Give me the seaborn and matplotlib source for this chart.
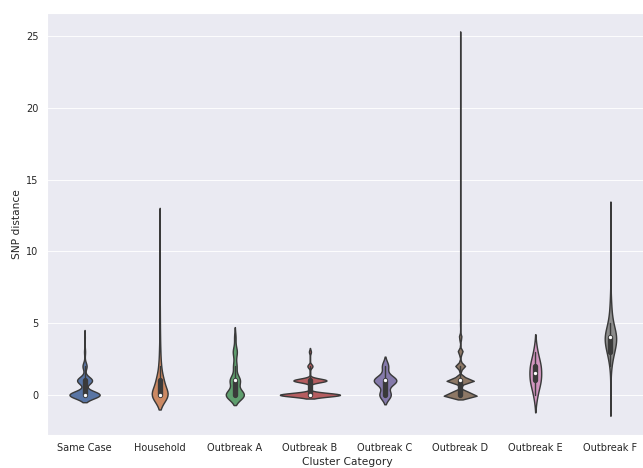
import numpy as np
import pandas as pd
import matplotlib
matplotlib.use("Agg")
import matplotlib.pyplot as plt
import seaborn as sns

categories = ["Same Case", "Household", "Outbreak A", "Outbreak B",
              "Outbreak C", "Outbreak D", "Outbreak E", "Outbreak F"]

# SNP distance values and number of pairs at each distance, per category
same_case_snp = [0, 1, 2, 3, 4]
same_case_n = [178, 88, 24, 6, 3]

household_snp = [0, 1, 2, 3, 4, 5, 6, 8, 12]
household_n = [126, 52, 18, 9, 5, 3, 2, 1, 1]

outbreak_a_snp = [0, 1, 2, 3, 4]
outbreak_a_n = [179, 100, 34, 40, 14]

outbreak_b_snp = [0, 1, 2, 3]
outbreak_b_n = [2418, 1330, 202, 80]

outbreak_c_snp = [0, 1, 2]
outbreak_c_n = [9, 18, 5]

outbreak_d_snp = [0, 1, 2, 3, 4, 5, 6, 7, 8, 10, 14, 19, 25]
outbreak_d_n = [7900, 6120, 2160, 1100, 600, 80, 25, 10, 5, 3, 1, 1, 1]

outbreak_e_snp = [0, 1, 2, 3]
outbreak_e_n = [1, 3, 3, 1]

outbreak_f_snp = [0, 2, 3, 4, 5, 6, 7, 12]
outbreak_f_n = [1, 2, 11, 25, 6, 3, 1, 1]

series = [
    (same_case_snp, same_case_n),
    (household_snp, household_n),
    (outbreak_a_snp, outbreak_a_n),
    (outbreak_b_snp, outbreak_b_n),
    (outbreak_c_snp, outbreak_c_n),
    (outbreak_d_snp, outbreak_d_n),
    (outbreak_e_snp, outbreak_e_n),
    (outbreak_f_snp, outbreak_f_n),
]

frames = []
for cat, (vals, counts) in zip(categories, series):
    v = np.repeat(np.asarray(vals, dtype=float), counts)
    frames.append(pd.DataFrame({"Cluster Category": cat, "SNP distance": v}))
df = pd.concat(frames, ignore_index=True)

sns.set_theme(style="darkgrid", context="notebook")
DPI = 64
fig = plt.figure(figsize=(643 / DPI, 468 / DPI), dpi=DPI)
ax = fig.add_axes([47 / 643, 33 / 468, 601 / 643, 422 / 468])

sns.violinplot(data=df, x="Cluster Category", y="SNP distance",
               hue="Cluster Category", order=categories, hue_order=categories,
               palette="deep", legend=False, common_norm=True,
               linewidth=1.6, linecolor="#3a3a3a",
               inner_kws=dict(box_width=6, whis_width=1.6, marker="."),
               ax=ax)
ax.set_ylim(-2.8, 26.6)

fig.savefig("out.png", dpi=DPI)
